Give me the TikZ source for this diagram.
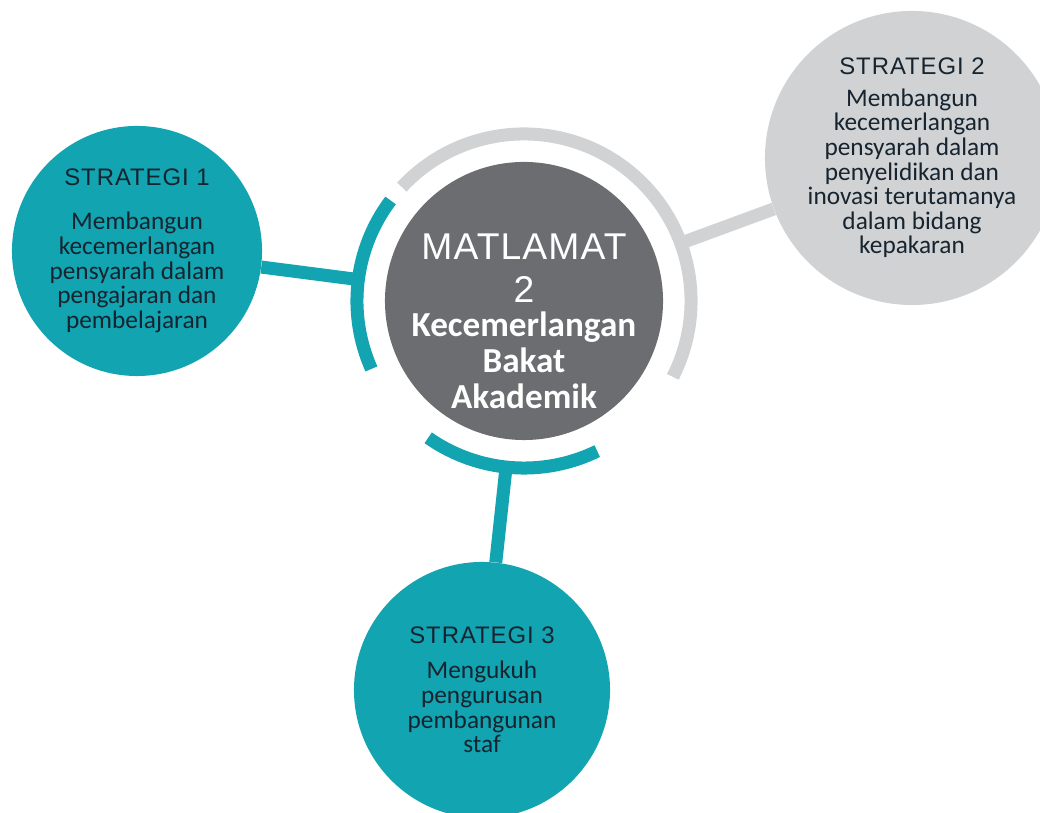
\documentclass[tikz,border=0pt]{standalone}
\usepackage{fontspec}
\setmainfont{Carlito}
\newfontfamily\stratfont[LetterSpace=4]{Liberation Sans}
\newfontfamily\goalfont[LetterSpace=3]{Liberation Sans}
\usetikzlibrary{calc}
\definecolor{StratTeal}{RGB}{18,164,176}
\definecolor{GoalGray}{RGB}{108,109,112}
\definecolor{SoftGray}{RGB}{209,210,212}
\definecolor{InkNavy}{RGB}{22,36,48}
\tikzset{
  goalcircle/.style={circle,fill=GoalGray,minimum size=6.95cm,inner sep=0pt},
  goaltext/.style={align=center,text=white,inner sep=0pt,
    font={\bfseries\fontsize{25}{25.6}\selectfont}},
  stratcircle/.style={circle,inner sep=0pt,align=center,text=InkNavy,
    font={\fontsize{18}{17.5}\selectfont}},
  ringarc/.style={line width=0.325cm},
  linkline/.style={line width=0.325cm},
}
\newcommand{\strattitle}[1]{{\stratfont\fontsize{17}{17.5}\selectfont #1}}
\newcommand{\goallight}[1]{{\goalfont\mdseries\fontsize{26.5}{25.6}\selectfont #1}}

\begin{document}
\begin{tikzpicture}[x=0.025cm,y=0.025cm]
  \useasboundingbox (0,0) rectangle (1040,813);
  % goal and strategies
  \node[goalcircle] (goal) at (524,512) {};
  \node[goaltext] (goaltxt) at (524,492) {\goallight{MATLAMAT}\\[5pt]
    \goallight{2}\\[-1.4pt] Kecemerlangan\\ Bakat\\ Akademik};
  \node[stratcircle,fill=StratTeal,minimum size=6.25cm] (s1) at (137,562)
    {\strattitle{STRATEGI 1}\\[13.8pt] Membangun\\ kecemerlangan\\
     pensyarah dalam\\ pengajaran dan\\ pembelajaran};
  \node[stratcircle,fill=SoftGray,minimum size=7.35cm] (s2) at (912,655)
    {\strattitle{STRATEGI 2}\\[5pt] Membangun\\ kecemerlangan\\
     pensyarah dalam\\ penyelidikan dan\\ inovasi terutamanya\\
     dalam bidang\\ kepakaran};
  \node[stratcircle,fill=StratTeal,minimum size=6.4cm] (s3) at (482,123)
    {\strattitle{STRATEGI 3}\\[7.5pt] Mengukuh\\ pengurusan\\
     pembangunan\\ staf};
  % ring segments
  \draw[ringarc,draw=SoftGray] ([shift={(137:4.175cm)}]goal.center)
    arc[start angle=137,end angle=-27,radius=4.175cm];
  \draw[ringarc,draw=StratTeal] ([shift={(143:4.175cm)}]goal.center)
    arc[start angle=143,end angle=204,radius=4.175cm];
  \draw[ringarc,draw=StratTeal] ([shift={(235:4.175cm)}]goal.center)
    arc[start angle=235,end angle=296,radius=4.175cm];
  % links
  \coordinate (r1) at ($(goal.center)!4.175cm!(s1.center)$);
  \coordinate (r2) at ($(goal.center)!4.175cm!(s2.center)$);
  \coordinate (r3) at ($(goal.center)!4.175cm!(s3.center)$);
  \draw[linkline,draw=StratTeal] (s1) -- (r1);
  \draw[linkline,draw=SoftGray] (s2) -- (r2);
  \draw[linkline,draw=StratTeal] (s3) -- (r3);
\end{tikzpicture}
\end{document}
